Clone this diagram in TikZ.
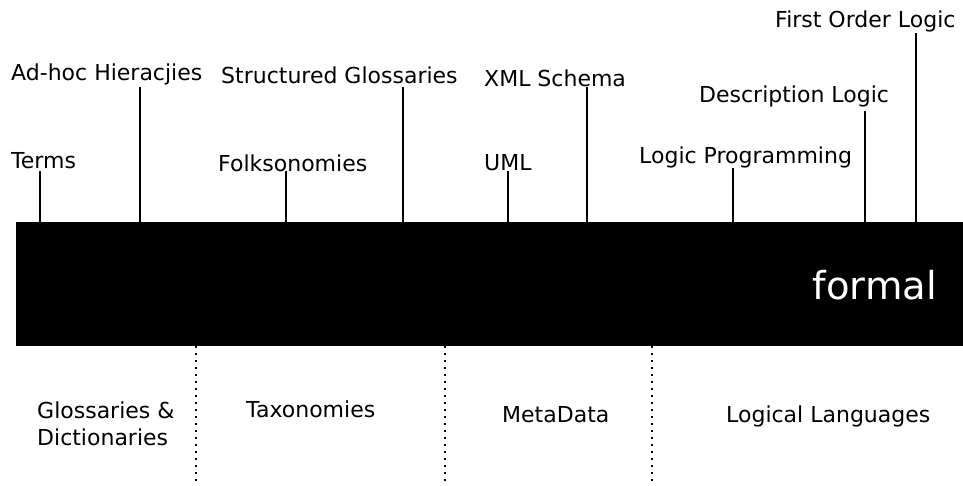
\documentclass[tikz,border=0pt]{standalone}
\usepackage{fontspec}
\setmainfont{DejaVu Sans}
\begin{document}
\begin{tikzpicture}[x=1pt, y=-1pt, line cap=butt,
    term/.style={anchor=base west, inner sep=0pt, font=\fontsize{22}{27}\selectfont},
    kind/.style={term, align=left},
    tick/.style={line width=1.3pt},
    divider/.style={line width=1.1pt, dash pattern=on 1.1pt off 5.9pt}]
  \useasboundingbox (0,0) rectangle (963,485);
  % The black bar, running out to the right edge.
  \node[fill=black, inner sep=0pt, minimum width=947pt, minimum height=124pt,
        anchor=north west] (bar) at (16,222) {};
  \node[anchor=base east, inner sep=0pt, text=white,
        font=\fontsize{38.5}{40}\selectfont] (formal) at (937,299) {formal};
  % Labels above the bar, each with a tick down to it.
  \node[term] (terms)  at (11,168)  {Terms};
  \node[term] (adhoc)  at (11,80)   {Ad-hoc Hieracjies};
  \node[term] (folks)  at (218,171) {Folksonomies};
  \node[term] (struct) at (221,83)  {Structured Glossaries};
  \node[term] (uml)    at (484,170) {UML};
  \node[term] (xml)    at (484,86)  {XML Schema};
  \node[term] (logprog) at (639,163) {Logic Programming};
  \node[term] (desc)   at (699,102) {Description Logic};
  \node[term] (fol)    at (775,27)  {First Order Logic};
  % Tops of the ticks.
  \coordinate (tTerms)   at (40,171);
  \coordinate (tAdhoc)   at (140,87);
  \coordinate (tFolks)   at (286,171);
  \coordinate (tStruct)  at (403,87);
  \coordinate (tUml)     at (508,171);
  \coordinate (tXml)     at (587,87);
  \coordinate (tLogprog) at (733,168);
  \coordinate (tDesc)    at (865,111);
  \coordinate (tFol)     at (916,33);
  \draw[tick] (tTerms)   -- (tTerms |- bar.north);
  \draw[tick] (tAdhoc)   -- (tAdhoc |- bar.north);
  \draw[tick] (tFolks)   -- (tFolks |- bar.north);
  \draw[tick] (tStruct)  -- (tStruct |- bar.north);
  \draw[tick] (tUml)     -- (tUml |- bar.north);
  \draw[tick] (tXml)     -- (tXml |- bar.north);
  \draw[tick] (tLogprog) -- (tLogprog |- bar.north);
  \draw[tick] (tDesc)    -- (tDesc |- bar.north);
  \draw[tick] (tFol)     -- (tFol |- bar.north);
  % Dotted dividers under the bar.
  \coordinate (d1) at (196,485);
  \coordinate (d2) at (445,485);
  \coordinate (d3) at (652,485);
  \draw[divider] (d1 |- bar.south) -- (d1);
  \draw[divider] (d2 |- bar.south) -- (d2);
  \draw[divider] (d3 |- bar.south) -- (d3);
  % Kinds of language below the bar.
  \node[kind] (gloss)   at (37,445)  {Glossaries \&\\Dictionaries};
  \node[kind] (taxo)    at (246,417) {Taxonomies};
  \node[kind] (meta)    at (502,422) {MetaData};
  \node[kind] (logical) at (726,422) {Logical Languages};
\end{tikzpicture}
\end{document}
